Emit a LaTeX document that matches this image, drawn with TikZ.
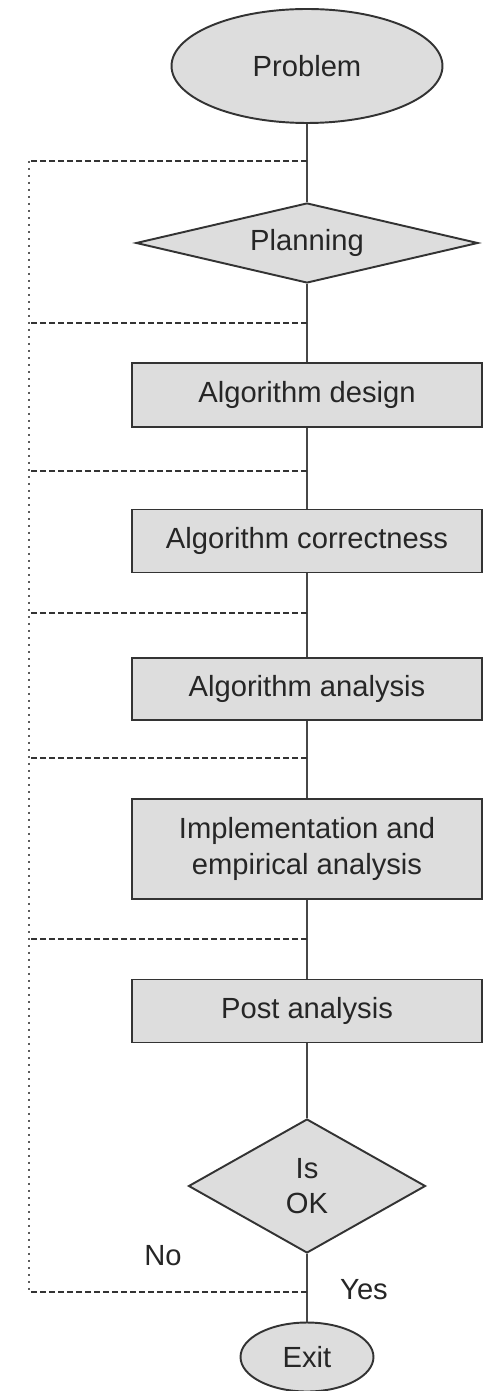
\documentclass[tikz,border=0pt]{standalone}
\usepackage{fontspec}
\setmainfont{Liberation Sans}
\usetikzlibrary{shapes.geometric}
\definecolor{boxfill}{HTML}{DDDDDD}
\definecolor{inkgray}{HTML}{333333}
\tikzset{
	base/.style={draw=inkgray, fill=boxfill, line width=1.1pt, inner sep=0pt, text=black!85, font=\fontsize{16.6}{20}\selectfont, align=center},
	terminal/.style={base, ellipse},
	decision/.style={base, diamond},
	process/.style={base, rectangle, minimum width=7.0cm},
	link/.style={draw=inkgray!90, line width=1.1pt},
	loopback/.style={draw=inkgray, line width=0.8pt, dash pattern=on 0.12cm off 0.06cm},
	loopside/.style={draw=inkgray!80, line width=1.3pt, dash pattern=on 0.05cm off 0.09cm},
	lbl/.style={text=black!85, font=\fontsize{16.6}{20}\selectfont}
}
\begin{document}
\begin{tikzpicture}[x=0.02cm, y=-0.02cm]
	\useasboundingbox (0,0) rectangle (488,1391);
	\node [terminal, minimum width=5.42cm, minimum height=2.28cm] (problem) at (307,66) {Problem};
	\node [decision, aspect=4.3, minimum width=6.84cm, minimum height=1.6cm] (planning) at (307,243) {Planning};
	\node [process, minimum height=1.28cm] (design) at (307,395) {Algorithm design};
	\node [process, minimum height=1.26cm] (correct) at (307,541) {Algorithm correctness};
	\node [process, minimum height=1.24cm] (analysis) at (307,689) {Algorithm analysis};
	\node [process, minimum height=2cm] (impl) at (307,849) {Implementation and\\empirical analysis};
	\node [process, minimum height=1.26cm] (post) at (307,1011) {Post analysis};
	\node [decision, aspect=1.77, minimum width=4.74cm, minimum height=2.68cm] (isok) at (307,1186) {Is\\OK};
	\node [terminal, minimum width=2.66cm, minimum height=1.38cm] (exit) at (307,1357) {Exit};
	\coordinate (j1) at (307,161);
	\coordinate (j2) at (307,323);
	\coordinate (j3) at (307,471);
	\coordinate (j4) at (307,613);
	\coordinate (j5) at (307,758);
	\coordinate (j6) at (307,939);
	\coordinate (j7) at (307,1292);
	\coordinate (top) at (29,161);
	\coordinate (bottom) at (29,1292);
	\draw [link] (problem) -- (planning) -- (design) -- (correct) -- (analysis) -- (impl) -- (post) -- (isok) -- (exit);
	\foreach \j in {j1,j2,j3,j4,j5,j6,j7}
		\draw [loopback] (\j) -- (\j -| top);
	\draw [loopside] (top) -- (bottom);
	\node [lbl] (no) at (163,1256) {No};
	\node [lbl] (yes) at (364,1290) {Yes};
\end{tikzpicture}
\end{document}
